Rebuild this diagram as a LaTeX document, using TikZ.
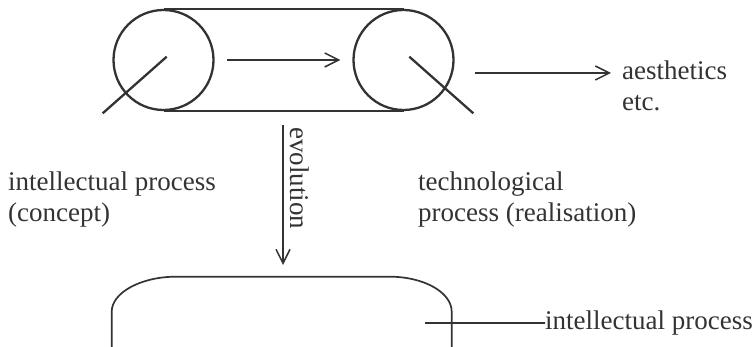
\documentclass[tikz,border=0pt]{standalone}
\usepackage{fontspec}
\setmainfont{Liberation Serif}
\usetikzlibrary{arrows.meta}
\definecolor{ink}{HTML}{333333}
\begin{document}
\begin{tikzpicture}[x=1pt,y=-1pt,
  thick line/.style={draw=ink,line width=2.3pt},
  arr/.style={draw=ink,line width=1.5pt,-{Straight Barb[length=14pt,width=14pt,line width=1.5pt]}},
  lbl/.style={text=ink,font=\fontsize{27}{31}\selectfont,inner sep=0pt,anchor=base west},
  wheel/.style={circle,draw=ink,line width=2.3pt,minimum size=100pt,inner sep=0pt}]
\useasboundingbox (0,0) rectangle (756,347);
% wheels
\node[wheel] (c1) at (163.5,60) {};
\node[wheel] (c2) at (403.5,60) {};
\draw[thick line] (c1.north) -- (c2.north);
\draw[thick line] (c1.south) -- (c2.south);
% slashes
\coordinate (s1a) at (166.7,56.7);
\coordinate (s1b) at (102.7,113.3);
\coordinate (s2a) at (409.3,56.7);
\coordinate (s2b) at (473.3,113.3);
\draw[thick line] (s1a) -- (s1b);
\draw[thick line] (s2a) -- (s2b);
% arrows
\draw[arr,shorten <=12.5pt,shorten >=12pt] (c1.east) -- (c2.west);
\node[lbl] (aes) at (622,80) {aesthetics};
\node[lbl] (etc) at (622,111) {etc.};
\coordinate (ra) at (475,73);
\draw[arr,shorten >=11pt] (ra) -- (ra -| aes.west);
% evolution
\coordinate (va) at (283,125);
\coordinate (vb) at (283,265);
\draw[arr] (va) -- (vb);
\node[lbl,rotate=-90] (evo) at (290,127) {evolution};
% side labels
\node[lbl] (ip1) at (8,191) {intellectual process};
\node[lbl] (ip2) at (8,222) {(concept)};
\node[lbl] (tp1) at (418,191) {technological};
\node[lbl] (tp2) at (418,222) {process (realisation)};
% bottom shape
\draw[ink,line width=1.7pt] (111.7,350) -- (111.7,311.7)
  .. controls (111.7,292.4) and (141.5,276.7) .. (175.7,276.7)
  -- (389.7,276.7)
  .. controls (423.9,276.7) and (451.7,292.4) .. (451.7,311.7)
  -- (451.7,350);
\node[lbl] (ip3) at (545,330) {intellectual process};
\coordinate (cin) at (425,323);
\draw[ink,line width=1.5pt] (cin) -- (cin -| ip3.west) -- +(-5,0);
\end{tikzpicture}
\end{document}
